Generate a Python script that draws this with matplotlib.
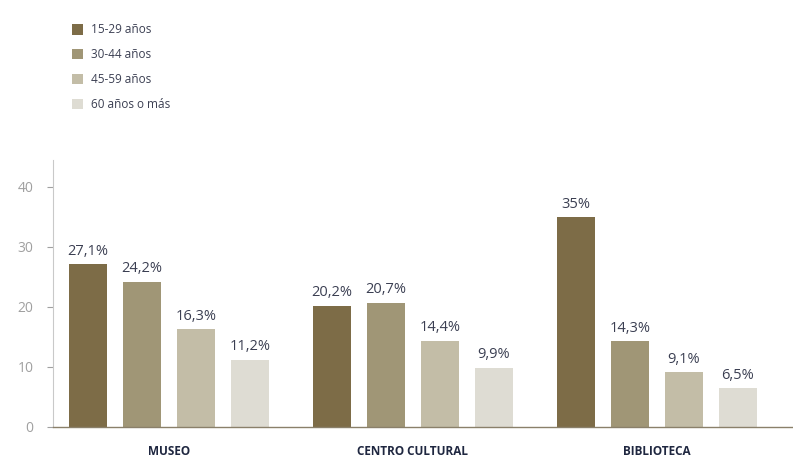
import numpy as np
import matplotlib.pyplot as plt
from matplotlib.patches import Patch

plt.rcParams['font.family'] = ['Open Sans', 'DejaVu Sans']

# datos
lugares = ['MUSEO', 'CENTRO CULTURAL', 'BIBLIOTECA']
edades = ['15-29 años', '30-44 años', '45-59 años', '60 años o más']
v_15_29 = [27.1, 20.2, 35]
v_30_44 = [24.2, 20.7, 14.3]
v_45_59 = [16.3, 14.4, 9.1]
v_60 = [11.2, 9.9, 6.5]
etiquetas = [['27,1%', '20,2%', '35%'],
             ['24,2%', '20,7%', '14,3%'],
             ['16,3%', '14,4%', '9,1%'],
             ['11,2%', '9,9%', '6,5%']]
colores = ['#7d6c47', '#a09676', '#c3bda7', '#dedcd3']

series = [v_15_29, v_30_44, v_45_59, v_60]

fig = plt.figure(figsize=(7.93, 4.58), dpi=100)
ax = fig.add_axes([0.0668, 0.0677, 0.9332, 0.583])

x = np.arange(len(lugares))
paso = 0.221
ancho = 0.156
for i, vals in enumerate(series):
    pos = x + (i - 1.5) * paso
    ax.bar(pos, vals, ancho, color=colores[i], zorder=2)
    for p, v, t in zip(pos, vals, etiquetas[i]):
        ax.text(p, v + 0.9, t, ha='center', va='bottom', fontsize=10.5,
                color='#3b3f52')

ax.set_xlim(-0.475, 2.557)
ax.set_ylim(0, 44.5)
ax.set_yticks([0, 10, 20, 30, 40])
ax.tick_params(axis='y', colors='#a0a0a0', labelsize=10, length=4, width=0.8, pad=10)
ax.set_xticks(x)
ax.set_xticklabels(lugares, fontsize=8.5, fontweight='bold', color='#1f2740')
ax.tick_params(axis='x', length=0, pad=13)

for s in ['top', 'right']:
    ax.spines[s].set_visible(False)
ax.spines['left'].set_color('#c9c9c9')
ax.spines['bottom'].set_color('#8a806a')
ax.spines['left'].set_linewidth(0.8)
ax.spines['bottom'].set_linewidth(1.0)

handles = [Patch(facecolor=c, edgecolor='none') for c in colores]
fig.legend(handles, edades, loc='upper left', bbox_to_anchor=(0.077, 0.972),
           frameon=False, fontsize=8.5, handlelength=1.0, handleheight=1.0,
           handletextpad=0.6, labelspacing=1.0, labelcolor='#3b3f52')

fig.savefig('out.png', dpi=100)
